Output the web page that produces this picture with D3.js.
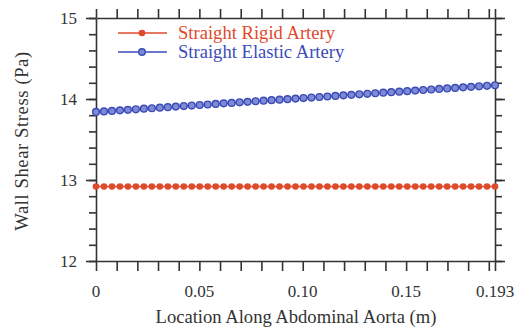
<!DOCTYPE html>
<html lang="en">
<head>
    <meta charset="UTF-8">
    <script src='https://cdnjs.cloudflare.com/ajax/libs/d3/7.8.5/d3.min.js'></script>
    <title>Wall Shear Stress</title>
    <style>
        body { margin: 0; background: #fff; }
        svg text { font-family: "Liberation Serif", "DejaVu Serif", serif; fill: #333; }
    </style>
</head>
<body>
    <div id='plot'></div>
<script>
    // data
    var location_m = [0, .00386, .00772, .01158, .01544, .0193, .02316, .02702, .03088, .03474,
        .0386, .04246, .04632, .05018, .05404, .0579, .06176, .06562, .06948, .07334,
        .0772, .08106, .08492, .08878, .09264, .0965, .10036, .10422, .10808, .11194,
        .1158, .11966, .12352, .12738, .13124, .1351, .13896, .14282, .14668, .15054,
        .1544, .15826, .16212, .16598, .16984, .1737, .17756, .18142, .18528, .18914, .193];
    var rigid = [12.92, 12.92, 12.92, 12.92, 12.92, 12.92, 12.92, 12.92, 12.92, 12.92,
        12.92, 12.92, 12.92, 12.92, 12.92, 12.92, 12.92, 12.92, 12.92, 12.92,
        12.92, 12.92, 12.92, 12.92, 12.92, 12.92, 12.92, 12.92, 12.92, 12.92,
        12.92, 12.92, 12.92, 12.92, 12.92, 12.92, 12.92, 12.92, 12.92, 12.92,
        12.92, 12.92, 12.92, 12.92, 12.92, 12.92, 12.92, 12.92, 12.92, 12.92, 12.92];
    var elastic = [13.840, 13.847, 13.853, 13.860, 13.866, 13.873, 13.880, 13.886, 13.893, 13.899,
        13.906, 13.913, 13.919, 13.926, 13.932, 13.939, 13.946, 13.952, 13.959, 13.965,
        13.972, 13.979, 13.985, 13.992, 13.998, 14.005, 14.012, 14.018, 14.025, 14.031,
        14.038, 14.045, 14.051, 14.058, 14.064, 14.071, 14.078, 14.084, 14.091, 14.097,
        14.104, 14.111, 14.117, 14.124, 14.130, 14.137, 14.144, 14.150, 14.157, 14.163, 14.170];
    var seriesNames = ["Straight Rigid Artery", "Straight Elastic Artery"];
    var xTickLabels = ["0", "0.05", "0.10", "0.15", "0.193"];
    var xTickValues = [0, 0.05, 0.10, 0.15, 0.193];
    var yTickValues = [12, 13, 14, 15];

    var margin = { top: 18, right: 25, bottom: 73, left: 96 },
        width = 520 - margin.left - margin.right,
        height = 334 - margin.top - margin.bottom;

    var red = "#e04a2c", blue = "#3b4cb8";

    var svg = d3.select("#plot")
        .append("svg")
        .attr("width", 520)
        .attr("height", 334)
        .append("g")
        .attr("transform", "translate(" + margin.left + "," + margin.top + ")");

    var x = d3.scaleLinear().domain([0, 0.193]).range([0, width]);
    var y = d3.scaleLinear().domain([12, 15]).range([height, 0]);

    // minor ticks every 0.01 along x, every 0.2 along y
    var xMinor = d3.range(0, 0.1901, 0.01).concat([0.193]);
    var yMinor = d3.range(12, 15.001, 0.2);

    function styleAxis(g) {
        g.selectAll("path").attr("stroke", "#333").attr("stroke-width", 1.6);
        g.selectAll("line").attr("stroke", "#333").attr("stroke-width", 1.6);
        g.selectAll("text").style("font-size", "17px").attr("fill", "#333");
    }

    // bottom
    svg.append("g")
        .attr("transform", "translate(0," + height + ")")
        .call(d3.axisBottom(x).tickValues(xMinor).tickSize(10).tickSizeOuter(0).tickFormat(""))
        .call(styleAxis);
    svg.append("g")
        .attr("transform", "translate(0," + height + ")")
        .selectAll("text")
        .data(xTickValues)
        .enter()
        .append("text")
        .attr("x", d => x(d))
        .attr("y", 36)
        .attr("text-anchor", "middle")
        .style("font-size", "17px")
        .text((d, i) => xTickLabels[i]);
    // top
    svg.append("g")
        .call(d3.axisTop(x).tickValues(xMinor).tickSize(9).tickSizeOuter(0).tickFormat(""))
        .call(styleAxis);
    // left
    svg.append("g")
        .call(d3.axisLeft(y).tickValues(yMinor).tickSize(7).tickSizeOuter(0).tickFormat(""))
        .call(styleAxis);
    svg.append("g")
        .call(d3.axisLeft(y).tickValues(yTickValues).tickSize(10).tickPadding(9).tickFormat(d3.format("d")))
        .call(styleAxis)
        .call(g => g.select(".domain").remove());
    // right
    svg.append("g")
        .attr("transform", "translate(" + width + ",0)")
        .call(d3.axisRight(y).tickValues(yMinor).tickSize(7).tickSizeOuter(0).tickFormat(""))
        .call(styleAxis);
    svg.append("g")
        .attr("transform", "translate(" + width + ",0)")
        .call(d3.axisRight(y).tickValues(yTickValues).tickSize(10).tickFormat(""))
        .call(styleAxis)
        .call(g => g.select(".domain").remove());

    // axis titles
    svg.append("text")
        .attr("x", 296 - margin.left)
        .attr("y", 323 - margin.top)
        .attr("text-anchor", "middle")
        .style("font-size", "18.6px")
        .text("Location Along Abdominal Aorta (m)");
    svg.append("text")
        .attr("transform", "translate(" + (28 - margin.left) + "," + (141 - margin.top) + ") rotate(-90)")
        .attr("text-anchor", "middle")
        .style("font-size", "18.6px")
        .style("letter-spacing", "0.6px")
        .text("Wall Shear Stress (Pa)");

    var line = d3.line().x((d, i) => x(location_m[i])).y(d => y(d));

    // rigid
    svg.append("path").datum(rigid)
        .attr("d", line).attr("fill", "none").attr("stroke", red).attr("stroke-width", 1.5);
    svg.append("g").selectAll("circle").data(rigid).enter().append("circle")
        .attr("cx", (d, i) => x(location_m[i]))
        .attr("cy", d => y(d))
        .attr("r", 3.3)
        .attr("fill", red);

    // elastic
    svg.append("path").datum(elastic)
        .attr("d", line).attr("fill", "none").attr("stroke", blue).attr("stroke-width", 1.5);
    svg.append("g").selectAll("circle").data(elastic).enter().append("circle")
        .attr("cx", (d, i) => x(location_m[i]))
        .attr("cy", d => y(d))
        .attr("r", 3.4)
        .attr("fill", "#7f8ad6")
        .attr("stroke", blue)
        .attr("stroke-width", 1.4);

    // legend
    var legend = svg.append("g").attr("transform", "translate(22,15)");
    [red, blue].forEach(function (c, i) {
        var g = legend.append("g").attr("transform", "translate(0," + (i * 19) + ")");
        g.append("line").attr("x1", 0).attr("x2", 49).attr("stroke", c).attr("stroke-width", 1.5);
        g.append("circle").attr("cx", 24).attr("r", 3.3)
            .attr("fill", i ? "#7f8ad6" : c).attr("stroke", i ? c : "none").attr("stroke-width", 1.4);
        g.append("text").attr("x", 60).attr("y", 6)
            .style("font-size", "18.6px")
            .style("fill", c)
            .text(seriesNames[i]);
    });
</script>
</body>
</html>
